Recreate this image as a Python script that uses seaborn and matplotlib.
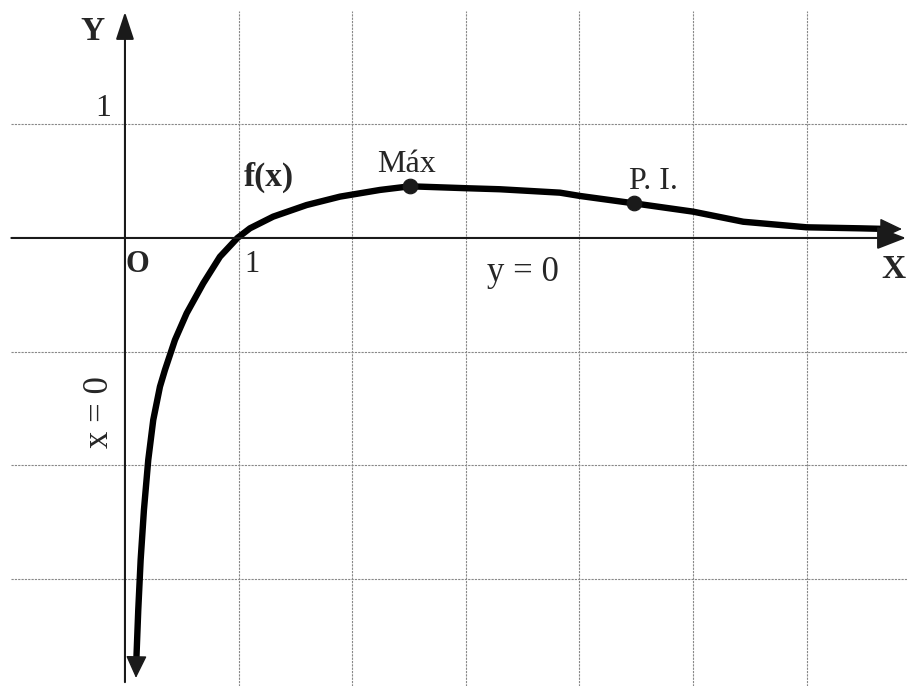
import matplotlib
matplotlib.use("Agg")
import seaborn as sns
import pandas as pd
from matplotlib import pyplot as plt

# curve (x, y in grid units)
curve_x = [0.10, 0.117, 0.138, 0.167, 0.205, 0.249, 0.308, 0.352, 0.440, 0.543,
           0.689, 0.836, 0.99, 1.100, 1.305, 1.599, 1.893, 2.245, 2.509, 3.008,
           3.301, 3.829, 4.005, 4.481, 5.0, 5.443, 6.001, 6.470, 6.68]
curve_y = [-3.72, -3.275, -2.835, -2.394, -1.954, -1.602, -1.309, -1.162, -0.898, -0.663,
           -0.399, -0.165, 0.0, 0.085, 0.188, 0.290, 0.364, 0.423, 0.455, 0.438,
           0.429, 0.399, 0.370, 0.305, 0.232, 0.143, 0.094, 0.085, 0.08]
tip_bottom = (0.097, -3.873)
tip_right = (6.84, 0.079)

# marked points
point_names = ["Máx", "P. I."]
point_x = [2.509, 4.481]
point_y = [0.455, 0.305]

grid_x = [1, 2, 3, 4, 5, 6]
grid_y = [1, -1, -2, -3]

df = pd.DataFrame({"x": curve_x, "y": curve_y})
pts = pd.DataFrame({"x": point_x, "y": point_y, "name": point_names})

sns.set_theme(style="white")
plt.rcParams['font.family'] = ['Liberation Serif', 'DejaVu Serif']

fig = plt.figure(figsize=(9.07, 6.86), dpi=100)
ax = fig.add_axes([0, 0, 1, 1])
ax.set_xlim(-1.100, 6.884)
ax.set_ylim(-3.944, 2.095)
ax.axis('off')

# grid
ax.vlines(grid_x, -3.944, 2.0, colors='#888888', linestyles=(0, (2, 1)), lw=0.8)
ax.hlines(grid_y, -1.0, 6.884, colors='#888888', linestyles=(0, (2, 1)), lw=0.8)

# axes with arrows
ax.annotate('', xy=(6.875, 0), xytext=(-1.0, 0),
            arrowprops=dict(arrowstyle='-|>,head_length=0.9,head_width=0.35',
                            mutation_scale=20, lw=1.5, color='k',
                            shrinkA=0, shrinkB=0))
ax.annotate('', xy=(0, 1.99), xytext=(0, -3.91),
            arrowprops=dict(arrowstyle='-|>,head_length=0.85,head_width=0.28',
                            mutation_scale=20, lw=1.5, color='k',
                            shrinkA=0, shrinkB=0))

# curve
sns.lineplot(data=df, x="x", y="y", sort=False, estimator=None,
             color='black', lw=4.6, ax=ax, solid_joinstyle='round')
for tip, src in [(tip_bottom, (curve_x[0], curve_y[0])),
                 (tip_right, (curve_x[-1], curve_y[-1]))]:
    ax.annotate('', xy=tip, xytext=src,
                arrowprops=dict(arrowstyle='-|>,head_length=0.7,head_width=0.33',
                                mutation_scale=20, lw=1, color='k',
                                shrinkA=0, shrinkB=0))

sns.scatterplot(data=pts, x="x", y="y", color='k', s=110, ax=ax, zorder=5,
                edgecolor='k')

# labels
ax.text(-0.29, 1.82, "Y", fontsize=24, fontweight='bold', ha='center', va='center')
ax.text(-0.19, 1.14, "1", fontsize=23, ha='center', va='center')
ax.text(0.11, -0.23, "O", fontsize=22, fontweight='bold', ha='center', va='center')
ax.text(1.12, -0.23, "1", fontsize=22, ha='center', va='center')
ax.text(1.27, 0.53, "f(x)", fontsize=24, fontweight='bold', ha='center', va='center')
ax.text(2.48, 0.65, "Máx", fontsize=23, ha='center', va='center')
ax.text(4.65, 0.50, "P. I.", fontsize=23, ha='center', va='center')
ax.text(3.50, -0.30, "y = 0", fontsize=25, ha='center', va='center')
ax.text(6.87, -0.28, "X", fontsize=24, fontweight='bold', ha='right', va='center')
ax.text(-0.22, -1.53, "x = 0", fontsize=25, ha='center', va='center', rotation=90)

plt.savefig("out.png", dpi=100)
